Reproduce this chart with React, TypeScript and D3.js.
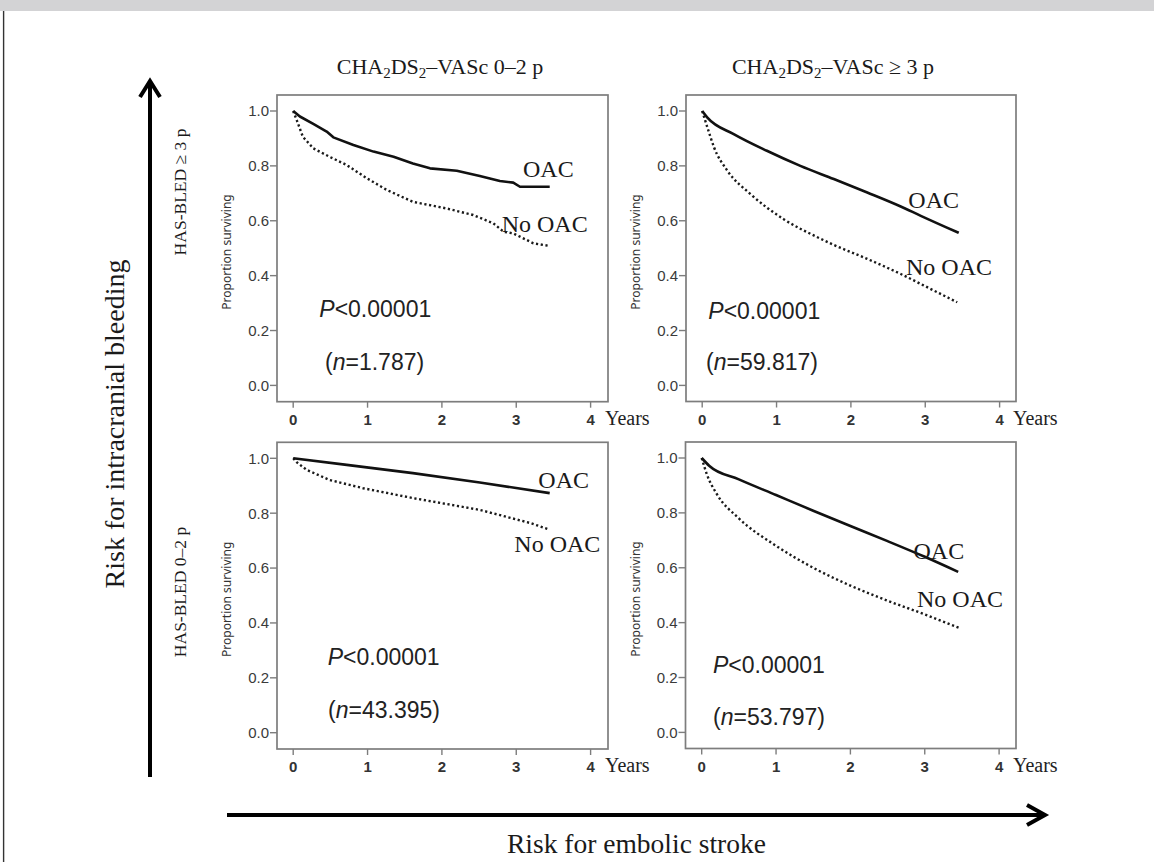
import React from "react";
import * as d3 from "d3";

type Pt = [number, number];

// ---------- data ----------
const columnSuffix = ["0–2 p", "≥ 3 p"];
const rowLabels = ["HAS-BLED ≥ 3 p", "HAS-BLED 0–2 p"];
const xTicks = [0, 1, 2, 3, 4];
const yTicks = [0, 0.2, 0.4, 0.6, 0.8, 1.0];
const seriesNames = ["OAC", "No OAC"];
const pValueText = "<0.00001";
const nValues = ["1.787", "59.817", "43.395", "53.797"];

// top-left: CHA2DS2-VASc 0-2, HAS-BLED >= 3
const tlOAC: Pt[] = [
  [0, 1.0], [0.09, 0.98], [0.27, 0.953], [0.45, 0.925], [0.54, 0.904], [0.81, 0.876],
  [1.08, 0.852], [1.35, 0.833], [1.61, 0.809], [1.84, 0.791], [2.2, 0.782], [2.51, 0.763],
  [2.78, 0.745], [2.96, 0.739], [3.05, 0.724], [3.45, 0.724],
];
const tlNoOAC: Pt[] = [
  [0, 1.0], [0.05, 0.965], [0.13, 0.906], [0.27, 0.864], [0.49, 0.833], [0.72, 0.803],
  [0.99, 0.755], [1.26, 0.712], [1.61, 0.669], [2.06, 0.645], [2.42, 0.621], [2.69, 0.591],
  [2.83, 0.56], [2.96, 0.554], [3.23, 0.518], [3.45, 0.508],
];
// top-right: CHA2DS2-VASc >= 3, HAS-BLED >= 3
const trOAC: Pt[] = [
  [0, 1.0], [0.07, 0.976], [0.43, 0.915], [0.87, 0.855], [1.32, 0.8], [1.77, 0.752],
  [2.22, 0.703], [2.67, 0.652], [2.94, 0.618], [3.45, 0.556],
];
const trNoOAC: Pt[] = [
  [0, 1.0], [0.07, 0.94], [0.16, 0.867], [0.34, 0.782], [0.65, 0.697], [1.1, 0.605],
  [1.55, 0.54], [1.77, 0.512], [2.22, 0.461], [2.67, 0.406], [3.12, 0.345], [3.43, 0.303],
];
// bottom-left: CHA2DS2-VASc 0-2, HAS-BLED 0-2
const blOAC: Pt[] = [
  [0, 1.0], [0.72, 0.976], [1.61, 0.946], [2.51, 0.912], [3.45, 0.873],
];
const blNoOAC: Pt[] = [
  [0, 1.0], [0.05, 0.985], [0.18, 0.958], [0.49, 0.921], [0.94, 0.891], [1.61, 0.855],
  [2.51, 0.812], [3.19, 0.764], [3.45, 0.74],
];
// bottom-right: CHA2DS2-VASc >= 3, HAS-BLED 0-2
const brOAC: Pt[] = [
  [0, 1.0], [0.1, 0.972], [0.5, 0.922], [1.0, 0.865], [1.5, 0.808], [2.0, 0.752],
  [2.5, 0.697], [3.0, 0.64], [3.45, 0.585],
];
const brNoOAC: Pt[] = [
  [0, 1.0], [0.07, 0.94], [0.2, 0.87], [0.5, 0.78], [1.0, 0.68], [1.5, 0.6],
  [2.0, 0.535], [2.5, 0.48], [3.0, 0.43], [3.47, 0.38],
];

// ---------- layout ----------
const SERIF = "'Liberation Serif', 'Times New Roman', serif";
const SANS = "'Liberation Sans', Arial, sans-serif";
const YLAB = "'Noto Sans', 'Open Sans', sans-serif";

interface PanelCfg {
  fx: number; fy: number; fw: number; fh: number;
  oac: Pt[]; no: Pt[]; stepped: boolean; n: string;
  oacLab: [number, number]; noLab: [number, number];
  pLab: [number, number]; nLab: [number, number];
}

const panels: PanelCfg[] = [
  { fx: 277, fy: 95, fw: 331, fh: 306.7, oac: tlOAC, no: tlNoOAC, stepped: true, n: nValues[0],
    oacLab: [246, 81.7], noLab: [224.7, 136.7], pLab: [42.3, 222.3], nLab: [48, 275] },
  { fx: 686, fy: 95, fw: 330, fh: 306.5, oac: trOAC, no: trNoOAC, stepped: false, n: nValues[1],
    oacLab: [222.3, 113.3], noLab: [220, 180], pLab: [22.3, 224.3], nLab: [20, 275] },
  { fx: 277, fy: 442.3, fw: 331, fh: 306.7, oac: blOAC, no: blNoOAC, stepped: true, n: nValues[2],
    oacLab: [261.3, 46], noLab: [237.3, 109.4], pLab: [50.7, 222.7], nLab: [51, 276] },
  { fx: 685.5, fy: 442, fw: 330.5, fh: 306.5, oac: brOAC, no: brNoOAC, stepped: false, n: nValues[3],
    oacLab: [228, 117], noLab: [231.5, 165], pLab: [27.5, 231.3], nLab: [27.5, 283] },
];

function Panel({ c }: { c: PanelCfg }) {
  const x = d3.scaleLinear().domain([0, 4]).range([c.fx + 16.2, c.fx + 313.6]);
  const y = d3.scaleLinear().domain([0, 1]).range([c.fy + 290.4, c.fy + 16]);
  const curve = c.stepped ? d3.curveLinear : d3.curveMonotoneX;
  const line = d3.line<Pt>().x((d) => x(d[0])).y((d) => y(d[1])).curve(curve);
  const bottom = c.fy + c.fh;
  const frameColor = "#7d7d7d";
  return (
    <g>
      <rect x={c.fx} y={c.fy} width={c.fw} height={c.fh} fill="none" stroke={frameColor} strokeWidth={1.7} />
      {yTicks.map((t) => (
        <g key={"y" + t}>
          <line x1={c.fx - 7} x2={c.fx} y1={y(t)} y2={y(t)} stroke={frameColor} strokeWidth={1.4} />
          <text x={c.fx - 8} y={y(t)} dy="0.36em" textAnchor="end" fontFamily={SANS} fontSize={15} fill="#3a3a3a">
            {t.toFixed(1)}
          </text>
        </g>
      ))}
      {xTicks.map((t) => (
        <g key={"x" + t}>
          <line x1={x(t)} x2={x(t)} y1={bottom} y2={bottom + 6} stroke={frameColor} strokeWidth={1.4} />
          <text x={x(t)} y={bottom + 23} textAnchor="middle" fontFamily={SANS} fontWeight="bold" fontSize={15} fill="#333">
            {t}
          </text>
        </g>
      ))}
      <text x={c.fx + c.fw - 3} y={bottom + 23} fontFamily={SERIF} fontSize={20} fill="#222">Years</text>
      <text
        transform={`translate(${c.fx - 46},${c.fy + 157}) rotate(-90)`}
        textAnchor="middle" fontFamily={YLAB} fontSize={12} fill="#333"
      >
        Proportion surviving
      </text>
      <path d={line(c.no) || ""} fill="none" stroke="#1a1a1a" strokeWidth={2.4} strokeDasharray="2.2 2.6" />
      <path d={line(c.oac) || ""} fill="none" stroke="#111" strokeWidth={2.6} strokeLinejoin="round" />
      <text x={c.fx + c.oacLab[0]} y={c.fy + c.oacLab[1]} fontFamily={SERIF} fontSize={24} fill="#1a1a1a">{seriesNames[0]}</text>
      <text x={c.fx + c.noLab[0]} y={c.fy + c.noLab[1]} fontFamily={SERIF} fontSize={24} fill="#1a1a1a">{seriesNames[1]}</text>
      <text x={c.fx + c.pLab[0]} y={c.fy + c.pLab[1]} fontFamily={SANS} fontSize={23} fill="#222">
        <tspan fontStyle="italic">P</tspan>{pValueText}
      </text>
      <text x={c.fx + c.nLab[0]} y={c.fy + c.nLab[1]} fontFamily={SANS} fontSize={23} fill="#222">
        (<tspan fontStyle="italic">n</tspan>={c.n})
      </text>
    </g>
  );
}

function ColTitle({ cx, suffix }: { cx: number; suffix: string }) {
  return (
    <text x={cx} y={74} textAnchor="middle" fontFamily={SERIF} fontSize={22} fill="#1a1a1a">
      CHA<tspan fontSize={15} dy={4}>2</tspan>
      <tspan dy={-4}>DS</tspan>
      <tspan fontSize={15} dy={4}>2</tspan>
      <tspan dy={-4}>–VASc {suffix}</tspan>
    </text>
  );
}

export default function App() {
  return (
    <svg width={1154} height={862} style={{ position: "absolute", left: 0, top: 0, display: "block", background: "#fff" }}>
      <rect x={0} y={0} width={1154} height={862} fill="#fff" />
      <rect x={0} y={0} width={1154} height={11} fill="#d3d3d5" />
      <line x1={3.6} x2={3.6} y1={11} y2={862} stroke="#333" strokeWidth={1.4} />

      <ColTitle cx={440} suffix={columnSuffix[0]} />
      <ColTitle cx={833} suffix={columnSuffix[1]} />

      {/* vertical arrow */}
      <line x1={150} x2={150} y1={777} y2={82} stroke="#000" strokeWidth={4} />
      <path d="M140,97 L150,81 L160,97" fill="none" stroke="#000" strokeWidth={4} strokeLinejoin="miter" />
      <text transform="translate(124,424) rotate(-90)" textAnchor="middle" fontFamily={SERIF} fontSize={28} fill="#1a1a1a">
        Risk for intracranial bleeding
      </text>
      <text transform="translate(186,192) rotate(-90)" textAnchor="middle" fontFamily={SERIF} fontSize={17.5} fill="#1a1a1a">
        {rowLabels[0]}
      </text>
      <text transform="translate(186,592) rotate(-90)" textAnchor="middle" fontFamily={SERIF} fontSize={17.5} fill="#1a1a1a">
        {rowLabels[1]}
      </text>

      {/* horizontal arrow */}
      <line x1={227} x2={1044} y1={815} y2={815} stroke="#000" strokeWidth={4} />
      <path d="M1027,805 L1045,815 L1027,825" fill="none" stroke="#000" strokeWidth={4} strokeLinejoin="miter" />
      <text x={507} y={853} fontFamily={SERIF} fontSize={27.5} fill="#1a1a1a">Risk for embolic stroke</text>

      {panels.map((c, i) => (
        <Panel key={i} c={c} />
      ))}
    </svg>
  );
}
